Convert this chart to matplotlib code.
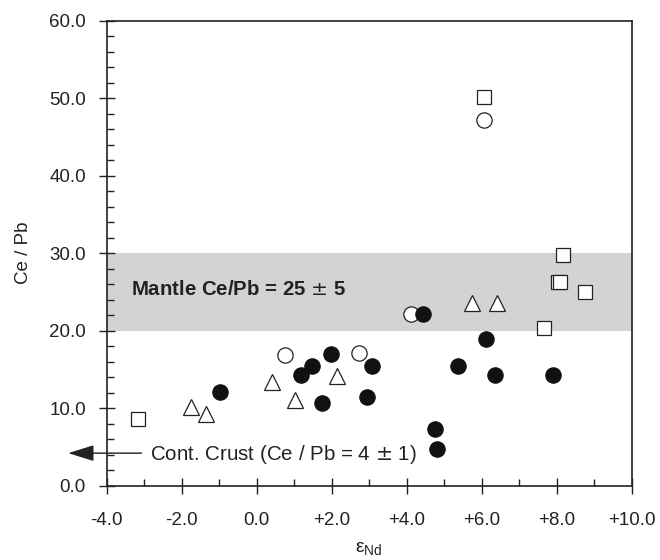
import matplotlib
matplotlib.use('Agg')
import matplotlib.pyplot as plt
from matplotlib.ticker import MultipleLocator

plt.rcParams['font.family'] = ['Liberation Sans', 'DejaVu Sans']

# filled circles
fc_x = [-0.98, 1.19, 1.47, 1.98, 1.75, 3.07, 2.93, 4.44, 6.11, 5.37, 6.35, 7.90, 4.76, 4.81]
fc_y = [12.1, 14.3, 15.4, 17.0, 10.7, 15.5, 11.5, 22.2, 18.9, 15.4, 14.3, 14.3, 7.3, 4.7]
# open circles
oc_x = [0.76, 2.74, 4.11, 6.07]
oc_y = [16.9, 17.1, 22.1, 47.2]
# open triangles
tr_x = [-1.75, -1.35, 0.42, 1.02, 2.13, 5.75, 6.40]
tr_y = [10.1, 9.3, 13.4, 11.0, 14.1, 23.6, 23.6]
# open squares
sq_x = [-3.17, 6.07, 8.18, 8.04, 8.09, 8.75, 7.67]
sq_y = [8.6, 50.2, 29.8, 26.3, 26.3, 25.0, 20.4]

xticks = [-4, -2, 0, 2, 4, 6, 8, 10]
xlabels = ['-4.0', '-2.0', '0.0', '+2.0', '+4.0', '+6.0', '+8.0', '+10.0']
yticks = [0, 10, 20, 30, 40, 50, 60]
ylabels = ['0.0', '10.0', '20.0', '30.0', '40.0', '50.0', '60.0']

fig = plt.figure(figsize=(6.6, 5.6), dpi=100)
ax = fig.add_axes([0.1617, 0.1327, 0.7954, 0.8303])

ax.axhspan(20, 30, color='#d3d3d5', zorder=0, lw=0)

ax.plot(oc_x, oc_y, 'o', ms=11, mfc='white', mec='#222222', mew=0.9, zorder=3)
ax.plot(fc_x, fc_y, 'o', ms=11, mfc='#111111', mec='#111111', mew=0.9, zorder=4)
ax.plot(tr_x, tr_y, '^', ms=12, mfc='white', mec='#222222', mew=0.9, zorder=3)
ax.plot(sq_x, sq_y, 's', ms=10.5, mfc='white', mec='#222222', mew=0.9, zorder=3)

ax.text(-3.35, 25.3, 'Mantle Ce/Pb = 25 $\\pm$ 5', fontsize=14.7, fontweight='bold',
        va='center', ha='left', color='#222222')

ax.annotate('', xy=(-5.1, 4.2), xytext=(-3.0, 4.2), xycoords='data',
            annotation_clip=False,
            arrowprops=dict(arrowstyle='-|>,head_length=1.6,head_width=0.5',
                            color='#222222', lw=1.0))
ax.text(-2.84, 4.0, 'Cont. Crust (Ce / Pb = 4 $\\pm$ 1)', fontsize=14.8,
        va='center', ha='left', color='#222222')

ax.set_xlim(-4, 10)
ax.set_ylim(0, 60)
ax.set_xticks(xticks)
ax.set_xticklabels(xlabels)
ax.set_yticks(yticks)
ax.set_yticklabels(ylabels)
ax.xaxis.set_minor_locator(MultipleLocator(1))
ax.yaxis.set_minor_locator(MultipleLocator(2))
ax.tick_params(which='major', direction='inout', length=12, width=1, labelsize=13.5,
               colors='#222222')
ax.tick_params(axis='x', which='major', pad=13)
ax.tick_params(axis='y', which='major', pad=9)
ax.tick_params(which='minor', direction='in', length=5, width=1, colors='#222222')
ax.tick_params(top=False, right=False)
for s in ax.spines.values():
    s.set_linewidth(1.2)
    s.set_color('#222222')

ax.set_ylabel('Ce / Pb', fontsize=13.5, color='#222222', labelpad=12)
ax.set_xlabel('$\\mathregular{\\varepsilon_{Nd}}$', fontsize=14, color='#222222', labelpad=8)

plt.savefig('out.png', dpi=100)
